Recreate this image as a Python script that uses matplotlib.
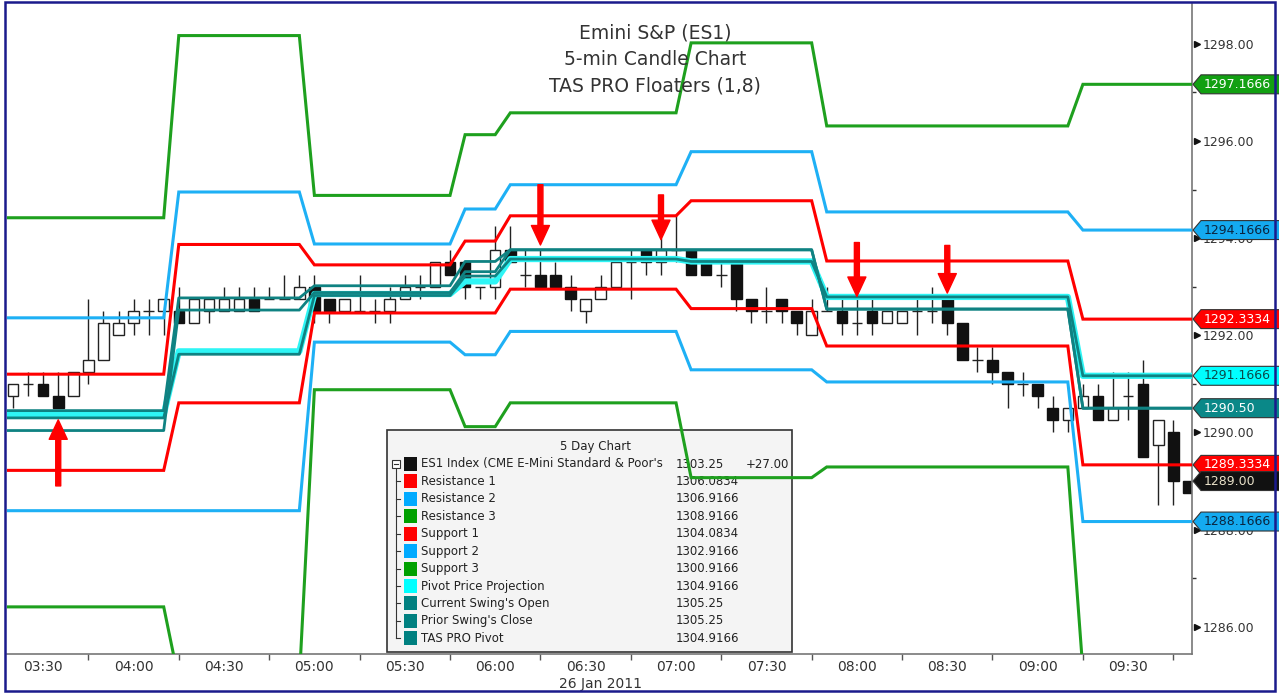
import numpy as np
import matplotlib
matplotlib.use("Agg")
import matplotlib.pyplot as plt
from matplotlib.patches import Rectangle, Polygon
from matplotlib.transforms import blended_transform_factory

plt.rcParams['font.family'] = ['DejaVu Sans']


def mins(s):
    h, m = s.split(':')
    return int(h) * 60 + int(m)


# ---- 5-min candles, first bar at 03:20 ----
first_bar = "03:20"
opens = [1290.75, 1291.0, 1291.0, 1290.75, 1290.75, 1291.25, 1291.5, 1292.0, 1292.25, 1292.5,
         1292.5, 1292.5, 1292.25, 1292.5, 1292.5, 1292.5, 1292.75, 1292.75, 1292.75, 1292.75,
         1293.0, 1292.75, 1292.5, 1292.5, 1292.5, 1292.5, 1292.75, 1293.0, 1293.0, 1293.5,
         1293.5, 1293.0, 1293.0, 1293.75, 1293.25, 1293.25, 1293.25, 1293.0, 1292.5, 1292.75,
         1293.0, 1293.5, 1293.75, 1293.5, 1293.75, 1293.75, 1293.5, 1293.25, 1293.5, 1292.75,
         1292.5, 1292.75, 1292.5, 1292.0, 1292.5, 1292.5, 1292.25, 1292.5, 1292.25, 1292.25,
         1292.5, 1292.5, 1292.75, 1292.25, 1291.5, 1291.5, 1291.25, 1291.0, 1291.0, 1290.5,
         1290.25, 1290.5, 1290.75, 1290.25, 1290.75, 1291.0, 1289.75, 1290.0, 1289.0]
highs = [1291.0, 1291.25, 1291.25, 1291.25, 1291.25, 1292.75, 1292.5, 1292.5, 1292.75, 1292.75,
         1292.75, 1293.0, 1292.75, 1292.75, 1293.0, 1293.0, 1293.0, 1293.0, 1293.25, 1293.25,
         1293.25, 1292.75, 1292.75, 1293.25, 1292.75, 1293.0, 1293.25, 1293.25, 1293.5, 1293.75,
         1293.5, 1293.0, 1294.25, 1294.25, 1293.75, 1293.75, 1293.5, 1293.25, 1292.75, 1293.25,
         1293.5, 1293.75, 1293.75, 1294.0, 1294.5, 1293.75, 1293.5, 1293.5, 1293.5, 1292.75,
         1293.0, 1292.75, 1292.5, 1292.75, 1293.0, 1292.75, 1292.75, 1292.75, 1292.5, 1292.5,
         1292.75, 1293.0, 1292.75, 1292.25, 1291.75, 1291.75, 1291.25, 1291.25, 1291.0, 1290.75,
         1290.5, 1291.0, 1291.0, 1291.25, 1291.25, 1291.5, 1290.25, 1290.25, 1289.0]
lows = [1290.5, 1290.75, 1290.75, 1290.5, 1290.75, 1291.0, 1291.5, 1292.0, 1292.0, 1292.0,
        1292.0, 1292.25, 1292.25, 1292.25, 1292.5, 1292.5, 1292.5, 1292.75, 1292.75, 1292.75,
        1292.25, 1292.25, 1292.5, 1292.5, 1292.25, 1292.25, 1292.75, 1292.75, 1293.0, 1293.25,
        1292.75, 1292.75, 1292.75, 1293.5, 1293.0, 1293.0, 1293.0, 1292.5, 1292.25, 1292.75,
        1293.0, 1292.75, 1293.25, 1293.25, 1293.5, 1293.25, 1293.25, 1293.0, 1292.5, 1292.25,
        1292.25, 1292.25, 1292.0, 1292.0, 1292.5, 1292.0, 1292.0, 1292.0, 1292.25, 1292.25,
        1292.0, 1292.25, 1292.0, 1291.5, 1291.25, 1291.0, 1290.5, 1290.75, 1290.5, 1290.0,
        1290.0, 1290.5, 1290.25, 1290.25, 1290.25, 1289.5, 1288.5, 1288.5, 1288.75]
closes = [1291.0, 1291.0, 1290.75, 1290.5, 1291.25, 1291.5, 1292.25, 1292.25, 1292.5, 1292.5,
          1292.75, 1292.25, 1292.75, 1292.75, 1292.75, 1292.75, 1292.5, 1292.75, 1292.75, 1293.0,
          1292.5, 1292.5, 1292.75, 1292.5, 1292.5, 1292.75, 1293.0, 1293.0, 1293.5, 1293.25,
          1293.0, 1293.0, 1293.75, 1293.5, 1293.25, 1293.0, 1293.0, 1292.75, 1292.75, 1293.0,
          1293.5, 1293.5, 1293.5, 1293.75, 1293.75, 1293.25, 1293.25, 1293.25, 1292.75, 1292.5,
          1292.5, 1292.5, 1292.25, 1292.5, 1292.5, 1292.25, 1292.25, 1292.25, 1292.5, 1292.5,
          1292.5, 1292.5, 1292.25, 1291.5, 1291.5, 1291.25, 1291.0, 1291.0, 1290.75, 1290.25,
          1290.5, 1290.75, 1290.25, 1290.5, 1290.75, 1289.5, 1290.25, 1289.0, 1288.75]

# ---- floater levels, one value per time segment ----
segments = [("03:15", "04:10"), ("04:15", "04:55"), ("05:00", "05:45"), ("05:50", "06:00"),
            ("06:05", "07:00"), ("07:05", "07:45"), ("07:50", "09:10"), ("09:15", "09:55")]
res3 = [1294.42, 1298.17, 1294.88, 1296.13, 1296.58, 1298.02, 1296.31, 1297.1666]
res2 = [1292.36, 1294.95, 1293.88, 1294.60, 1295.10, 1295.78, 1294.54, 1294.1666]
res1 = [1291.20, 1293.87, 1293.45, 1293.94, 1294.46, 1294.77, 1293.53, 1292.3334]
sup1 = [1289.22, 1290.61, 1292.46, 1292.46, 1292.95, 1292.55, 1291.78, 1289.3334]
sup2 = [1288.39, 1288.39, 1291.86, 1291.60, 1292.08, 1291.29, 1291.04, 1288.1666]
sup3 = [1286.41, 1284.90, 1290.88, 1290.12, 1290.61, 1289.07, 1289.29, 1285.10]
projection = [1290.37, 1291.67, 1292.85, 1293.11, 1293.57, 1293.52, 1292.79, 1291.1666]
pivot = [1290.30, 1291.61, 1292.82, 1293.22, 1293.57, 1293.52, 1292.79, 1291.1666]
swing_open = [1290.45, 1292.77, 1293.02, 1293.52, 1293.76, 1293.76, 1292.54, 1290.50]
prior_close = [1290.04, 1292.52, 1292.88, 1293.31, 1293.76, 1293.76, 1292.54, 1290.50]

# red arrows (time, tail, tip)
arrow_times = ["03:35", "06:15", "06:55", "08:00", "08:30"]
arrow_tails = [1288.90, 1295.10, 1294.89, 1293.91, 1293.85]
arrow_tips = [1290.26, 1293.86, 1293.97, 1292.80, 1292.87]

# price tags on the right axis
tag_values = [1297.1666, 1294.1666, 1292.3334, 1291.1666, 1290.50, 1289.3334, 1289.00, 1288.1666]
tag_texts = ["1297.1666", "1294.1666", "1292.3334", "1291.1666", "1290.50", "1289.3334", "1289.00", "1288.1666"]
tag_colors = ['#12a012', '#14aaf0', '#ff0000', '#00ffff', '#0a8888', '#ff0000', '#111111', '#14aaf0']
tag_textcolors = ['white', '#0a2540', 'white', '#0a4a4a', 'white', 'white', '#e8e0c8', '#0a2540']

# legend table
legend_names = ["ES1 Index (CME E-Mini Standard & Poor's", "Resistance 1", "Resistance 2",
                "Resistance 3", "Support 1", "Support 2", "Support 3", "Pivot Price Projection",
                "Current Swing's Open", "Prior Swing's Close", "TAS PRO Pivot"]
legend_values = ["1303.25", "1306.0834", "1306.9166", "1308.9166", "1304.0834", "1302.9166",
                 "1300.9166", "1304.9166", "1305.25", "1305.25", "1304.9166"]
legend_colors = ['#111111', '#ff0000', '#00aaff', '#00a000', '#ff0000', '#00aaff', '#00a000',
                 '#00ffff', '#008080', '#008080', '#008080']

xtick_labels = ["03:30", "04:00", "04:30", "05:00", "05:30", "06:00", "06:30",
                "07:00", "07:30", "08:00", "08:30", "09:00", "09:30"]
ytick_values = [1286, 1288, 1290, 1292, 1294, 1296, 1298]

RED = '#ff0000'
BLUE = '#1eb0f5'
GREEN = '#1ea01e'
CYAN = '#2ef5f5'
TEAL = '#0f8282'

fig = plt.figure(figsize=(12.79, 6.94), dpi=100)
ax = fig.add_axes([7 / 1279, 40 / 694, 1185 / 1279, 650 / 694])
ax.set_xlim(198, 591.2)
ax.set_ylim(1285.44, 1298.82)


def px_x(px):
    return (px - 7) / 1185


def px_y(py):
    return (654 - py) / 650


# candles
t0 = mins(first_bar)
times = np.array([t0 + 5 * i for i in range(len(opens))])
o = np.array(opens)
h = np.array(highs)
l = np.array(lows)
c = np.array(closes)
ax.vlines(times, l, h, color='#222222', lw=1, zorder=2)
up = c > o
down = c < o
flat = c == o
ax.bar(times[up], (c - o)[up], bottom=o[up], width=3.5, color='white',
       edgecolor='#222222', lw=1, zorder=2.2)
ax.bar(times[down], (o - c)[down], bottom=c[down], width=3.5, color='#111111',
       edgecolor='#111111', lw=1, zorder=2.2)
ax.hlines(c[flat], times[flat] - 1.75, times[flat] + 1.75, color='#222222', lw=1, zorder=2.2)


# step lines
def step(levels):
    xs, ys = [], []
    for (a, b), v in zip(segments, levels):
        xs += [mins(a), mins(b)]
        ys += [v, v]
    return xs, ys


for lv, col in [(res3, GREEN), (sup3, GREEN), (res2, BLUE), (sup2, BLUE),
                (res1, RED), (sup1, RED)]:
    ax.plot(*step(lv), color=col, lw=2.2, zorder=3, solid_joinstyle='miter')
ax.plot(*step(projection), color=CYAN, lw=4.5, zorder=3.1)
for lv in [pivot, swing_open, prior_close]:
    ax.plot(*step(lv), color=TEAL, lw=2.0, zorder=3.2)

# arrows
for t, tail, tip in zip(arrow_times, arrow_tails, arrow_tips):
    ax.annotate('', xy=(mins(t), tip), xytext=(mins(t), tail),
                arrowprops=dict(facecolor=RED, edgecolor=RED, width=3.6,
                                headwidth=13, headlength=14, shrink=0),
                zorder=6)

# spines / axes
for s in ['left', 'top']:
    ax.spines[s].set_visible(False)
for s in ['right', 'bottom']:
    ax.spines[s].set_color('#777777')
    ax.spines[s].set_linewidth(1.2)

ax.yaxis.tick_right()
ax.set_yticks(ytick_values)
ax.set_yticklabels([f"{v:.2f}" for v in ytick_values])
ax.set_yticks([v + 1 for v in ytick_values[:-1]], minor=True)
ax.tick_params(axis='y', which='major', length=0, pad=8, labelsize=9, labelcolor='#333333')
ax.tick_params(axis='y', which='minor', length=3, width=1, color='#333333', direction='out')
blend_y = blended_transform_factory(ax.transAxes, ax.transData)
ax.plot([1.0042] * len(ytick_values), ytick_values, ls='none', marker='>', ms=5,
        color='#111111', transform=blend_y, clip_on=False, zorder=4)

xt = [mins(s) for s in xtick_labels]
ax.set_xticks(xt)
ax.set_xticklabels(xtick_labels)
ax.set_xticks([v + 15 for v in xt], minor=True)
ax.tick_params(axis='x', which='major', length=0, pad=4, labelsize=10, labelcolor='#333333')
ax.tick_params(axis='x', which='minor', length=4, width=1, color='#555555', direction='out')
blend_x = blended_transform_factory(ax.transData, ax.transAxes)
ax.text(mins("06:35"), px_y(684), "26 Jan 2011", transform=blend_x, ha='center',
        va='center', fontsize=10, color='#333333')

# title
for k, line in enumerate(["Emini S&P (ES1)", "5-min Candle Chart", "TAS PRO Floaters (1,8)"]):
    ax.text(px_x(655), px_y(33 + 26.5 * k), line, transform=ax.transAxes, ha='center',
            va='center', fontsize=13.5, color='#333333', zorder=5)

# price tags
hh = 0.195
for v, txt, fc, tc in zip(tag_values, tag_texts, tag_colors, tag_textcolors):
    pts = [(px_x(1193), v), (px_x(1201), v + hh), (px_x(1285), v + hh),
           (px_x(1285), v - hh), (px_x(1201), v - hh)]
    ax.add_patch(Polygon(pts, closed=True, transform=blend_y, facecolor=fc,
                         edgecolor='#333333', lw=0.8, clip_on=False, zorder=7))
    ax.text(px_x(1204), v, txt, transform=blend_y, ha='left', va='center',
            fontsize=9, color=tc, clip_on=False, zorder=8)

# legend box
ax.add_patch(Rectangle((px_x(387), px_y(652)), px_x(792) - px_x(387), px_y(430) - px_y(652),
                       transform=ax.transAxes, facecolor='#f4f4f4', edgecolor='#333333',
                       lw=1.2, zorder=1.5))
ax.text(px_x(595), px_y(446.5), "5 Day Chart", transform=ax.transAxes, ha='center',
        va='center', fontsize=8.5, color='#222222', zorder=1.6)
row_y = [464 + 17.43 * k for k in range(len(legend_names))]
ax.plot([px_x(395.5), px_x(395.5)], [px_y(row_y[0] + 4), px_y(row_y[-1])],
        transform=ax.transAxes, color='#333333', lw=0.8, zorder=1.6)
for k, (name, val, col) in enumerate(zip(legend_names, legend_values, legend_colors)):
    y = row_y[k]
    if k == 0:
        ax.add_patch(Rectangle((px_x(391.5), px_y(y + 4)), 8 / 1185, 8 / 650,
                               transform=ax.transAxes, facecolor='white',
                               edgecolor='#333333', lw=0.8, zorder=1.7))
        ax.plot([px_x(393.5), px_x(397.5)], [px_y(y), px_y(y)], transform=ax.transAxes,
                color='#333333', lw=0.8, zorder=1.8)
        ax.text(px_x(789), px_y(y), "+27.00", transform=ax.transAxes, ha='right',
                va='center', fontsize=8.5, color='#222222', zorder=1.6)
    else:
        ax.plot([px_x(395.5), px_x(399.5)], [px_y(y), px_y(y)], transform=ax.transAxes,
                color='#333333', lw=0.8, zorder=1.6)
    ax.add_patch(Rectangle((px_x(404), px_y(y + 7)), 13 / 1185, 14 / 650,
                           transform=ax.transAxes, facecolor=col, edgecolor='none',
                           zorder=1.6))
    ax.text(px_x(421), px_y(y), name, transform=ax.transAxes, ha='left', va='center',
            fontsize=8.5, color='#222222', zorder=1.6)
    ax.text(px_x(676), px_y(y), val, transform=ax.transAxes, ha='left', va='center',
            fontsize=8.5, color='#222222', zorder=1.6)

# navy frame around the whole chart
fig.add_artist(Rectangle((5 / 1279, 3 / 694), 1270 / 1279, 689 / 694, transform=fig.transFigure,
                         fill=False, edgecolor='#1a1a8c', lw=1.8, zorder=10))

fig.savefig("out.png", dpi=100)
